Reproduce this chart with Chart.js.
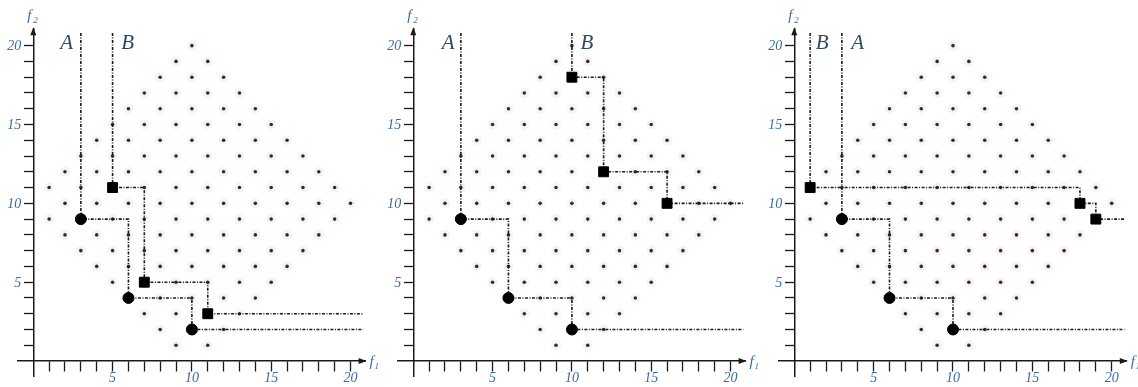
<!DOCTYPE html>
<html>
<head>
<meta charset="utf-8">
<script src="https://cdn.jsdelivr.net/npm/chart.js@4.4.1/dist/chart.umd.min.js"></script>
<style>
  html, body { margin: 0; padding: 0; background: #fff; }
  #wrap { position: relative; width: 1138px; height: 387px; }
  canvas { position: absolute; top: 0; }
</style>
</head>
<body>
<div id="wrap">
  <canvas id="c1" width="380" height="387" style="left:0"></canvas>
  <canvas id="c2" width="380" height="387" style="left:380px"></canvas>
  <canvas id="c3" width="378" height="387" style="left:760px"></canvas>
</div>
<script>
// feasible points: f2 of each row and the f1 values on that row
const dotRowF2 = [20, 19, 18, 17, 16, 15, 14, 13, 12, 11, 10, 9, 8, 7, 6, 5, 4, 3, 2, 1];
const dotRowF1 = [
    [10],
    [9, 11],
    [8, 10, 12],
    [7, 9, 11, 13],
    [6, 8, 10, 12, 14],
    [5, 7, 9, 11, 13, 15],
    [4, 6, 8, 10, 12, 14, 16],
    [3, 5, 7, 9, 11, 13, 15, 17],
    [2, 4, 6, 8, 10, 12, 14, 16, 18],
    [1, 3, 5, 7, 9, 11, 13, 15, 17, 19],
    [2, 4, 6, 8, 10, 12, 14, 16, 18, 20],
    [1, 3, 5, 7, 9, 11, 13, 15, 17, 19],
    [2, 4, 6, 8, 10, 12, 14, 16, 18],
    [3, 5, 7, 9, 11, 13, 15, 17],
    [4, 6, 8, 10, 12, 14, 16],
    [5, 7, 9, 11, 13, 15],
    [6, 8, 10, 12, 14],
    [7, 9, 11, 13],
    [8, 10, 12],
    [9, 11]
];

// set A (circles), same in all three panels
const setA_f1 = [3, 6, 10];
const setA_f2 = [9, 4, 2];

// set B (squares), one per panel
const setB1_f1 = [5, 7, 11];
const setB1_f2 = [11, 5, 3];
const setB2_f1 = [10, 12, 16];
const setB2_f2 = [18, 12, 10];
const setB3_f1 = [1, 18, 19];
const setB3_f2 = [11, 10, 9];

// where the A / B names sit (f1), f2 is the same for both
const labelNames = ['A', 'B'];
const label1_f1 = [2.1, 5.95];
const label2_f1 = [2.2, 10.95];
const label3_f1 = [4.0, 1.75];
const label_f2 = 20.15;

const tickShown = [5, 10, 15, 20];
const lineEnd = 20.8;

const INK = '#1a1a1a';
const TICK_TEXT = '#3a6ca0';
const NAME_TEXT = '#2d4a63';

function toPoints(xs, ys) {
    return xs.map((v, i) => ({ x: v, y: ys[i] }));
}

function allDots() {
    const pts = [];
    dotRowF2.forEach((f2, r) => {
        dotRowF1[r].forEach(f1 => pts.push({ x: f1, y: f2 }));
    });
    return pts;
}

function staircase(xs, ys) {
    const pts = toPoints(xs, ys);
    return [{ x: xs[0], y: lineEnd }].concat(pts, [{ x: lineEnd, y: ys[ys.length - 1] }]);
}

// arrows, f1 / f2, f2 tick labels and set names
const decorPlugin = {
    id: 'decor',
    afterDraw(chart, args, opts) {
        const ctx = chart.ctx;
        const sx = chart.scales.x;
        const sy = chart.scales.y;
        const x0 = sx.getPixelForValue(0);
        const y0 = sy.getPixelForValue(0);
        const xe = sx.getPixelForValue(sx.max);
        const ye = sy.getPixelForValue(sy.max);

        ctx.save();
        ctx.fillStyle = INK;
        ctx.beginPath();
        ctx.moveTo(xe + 1, y0);
        ctx.lineTo(xe - 7, y0 - 3);
        ctx.lineTo(xe - 7, y0 + 3);
        ctx.closePath();
        ctx.fill();
        ctx.beginPath();
        ctx.moveTo(x0, ye - 1);
        ctx.lineTo(x0 - 3, ye + 7);
        ctx.lineTo(x0 + 3, ye + 7);
        ctx.closePath();
        ctx.fill();

        ctx.fillStyle = TICK_TEXT;
        ctx.textAlign = 'right';
        ctx.textBaseline = 'middle';
        ctx.font = 'italic 14px "Liberation Serif"';
        tickShown.forEach(v => {
            ctx.fillText(String(v), x0 - 12, sy.getPixelForValue(v) + 1);
        });

        ctx.textAlign = 'left';
        ctx.textBaseline = 'alphabetic';
        ctx.font = 'italic 15px "Liberation Serif"';
        ctx.fillText('f', x0 - 6, ye - 8);
        ctx.font = 'italic 9px "Liberation Serif"';
        ctx.fillText('2', x0, ye - 5);
        ctx.font = 'italic 15px "Liberation Serif"';
        ctx.fillText('f', xe + 4, y0 + 5);
        ctx.font = 'italic 9px "Liberation Serif"';
        ctx.fillText('1', xe + 9, y0 + 8);

        ctx.fillStyle = NAME_TEXT;
        ctx.textAlign = 'center';
        ctx.textBaseline = 'middle';
        ctx.font = 'italic 21px "Liberation Serif"';
        opts.names.forEach((n, i) => {
            ctx.fillText(n, sx.getPixelForValue(opts.at[i]), sy.getPixelForValue(label_f2));
        });
        ctx.restore();
    }
};

function tickFont() {
    return { family: 'Liberation Serif', style: 'italic', size: 14 };
}

function tickInk(c) {
    return (c.tick && c.tick.value >= 1 && c.tick.value <= 20) ? INK : 'rgba(0,0,0,0)';
}

function drawPanel(id, bF1, bF2, nameF1, pad) {
    const lineStyle = {
        type: 'line',
        borderColor: INK,
        borderWidth: 1.6,
        borderDash: [3, 1.5, 1, 1.5],
        pointRadius: 0,
        stepped: true,
        fill: false
    };
    new Chart(document.getElementById(id), {
        type: 'scatter',
        data: {
            datasets: [
                { label: 'A', data: toPoints(setA_f1, setA_f2), pointStyle: 'circle', pointRadius: 5.5,
                  backgroundColor: '#000', borderColor: '#000', order: 0 },
                { label: 'B', data: toPoints(bF1, bF2), pointStyle: 'rect', pointRadius: 7,
                  backgroundColor: '#000', borderColor: '#000', order: 0 },
                Object.assign({ label: 'A front', data: staircase(setA_f1, setA_f2), order: 1 }, lineStyle),
                Object.assign({ label: 'B front', data: staircase(bF1, bF2), order: 1 }, lineStyle),
                { label: 'points', data: allDots(), pointRadius: 1.8, backgroundColor: '#1e3244',
                  borderColor: '#1e3244', pointBorderWidth: 0, order: 2 },
                { label: 'halo', data: allDots(), pointRadius: 5, backgroundColor: 'rgba(245,222,214,0.4)',
                  borderColor: 'rgba(0,0,0,0)', pointBorderWidth: 0, order: 3 }
            ]
        },
        options: {
            responsive: false,
            animation: false,
            events: [],
            layout: { padding: pad },
            plugins: {
                legend: { display: false },
                tooltip: { enabled: false },
                decor: { names: labelNames, at: nameF1 }
            },
            scales: {
                x: {
                    type: 'linear',
                    min: -1,
                    max: 20.95,
                    position: { y: 0 },
                    afterFit: s => { s.height = 0; },
                    border: { color: INK, width: 1.5 },
                    grid: { drawOnChartArea: false, tickLength: 10, tickWidth: 1.3, tickColor: tickInk },
                    ticks: {
                        stepSize: 1,
                        autoSkip: false,
                        maxRotation: 0,
                        includeBounds: false,
                        padding: -1,
                        color: TICK_TEXT,
                        font: tickFont(),
                        callback: v => tickShown.includes(v) ? String(v) : ''
                    }
                },
                y: {
                    type: 'linear',
                    min: -1,
                    max: 21.1,
                    position: { x: 0 },
                    afterFit: s => { s.width = 0; },
                    border: { color: INK, width: 1.5 },
                    grid: { drawOnChartArea: false, tickLength: 9, tickWidth: 1.3, tickColor: tickInk },
                    ticks: {
                        stepSize: 1,
                        autoSkip: false,
                        includeBounds: false,
                        callback: () => ''
                    }
                }
            }
        },
        plugins: [decorPlugin]
    });
}

drawPanel('c1', setB1_f1, setB1_f2, label1_f1, { left: 17.4, right: 14.4, top: 28.3, bottom: 8.2 });
drawPanel('c2', setB2_f1, setB2_f2, label2_f1, { left: 17.4, right: 14.4, top: 28.3, bottom: 8.2 });
drawPanel('c3', setB3_f1, setB3_f2, label3_f1, { left: 18.4, right: 11.2, top: 28.3, bottom: 8.2 });
</script>
</body>
</html>
